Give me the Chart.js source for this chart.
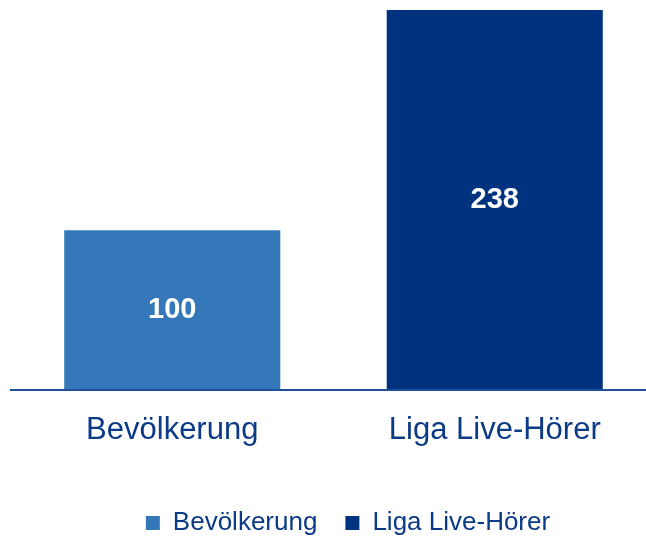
<!DOCTYPE html>
<html>
<head>
<meta charset="utf-8">
<script src="https://cdn.jsdelivr.net/npm/chart.js@4/dist/chart.umd.min.js"></script>
<style>
  html, body { margin: 0; padding: 0; background: #fff; }
  #wrap { width: 646px; height: 537px; overflow: hidden; }
</style>
</head>
<body>
<div id="wrap"><canvas id="chart" width="656" height="537"></canvas></div>
<script>
const categories = ['Bevölkerung', 'Liga Live-Hörer'];
const bevoelkerung = [100, null];
const ligaHoerer = [null, 238];

const textColor = '#0B3A86';

// white value labels in the middle of each bar
const barValues = {
    id: 'barValues',
    afterDatasetsDraw(chart) {
        const ctx = chart.ctx;
        ctx.save();
        ctx.fillStyle = '#FFFFFF';
        ctx.font = 'bold 29px "Liberation Sans", Arial, sans-serif';
        ctx.textAlign = 'center';
        ctx.textBaseline = 'middle';
        chart.data.datasets.forEach(function(ds, i) {
            chart.getDatasetMeta(i).data.forEach(function(bar, j) {
                if (ds.data[j] == null) return;
                const p = bar.getProps(['x', 'y', 'base'], true);
                ctx.fillText(ds.data[j], p.x, (p.y + p.base) / 2);
            });
        });
        ctx.restore();
    }
};

// legend sits a bit right of centre and lower in the original
const legendShift = {
    id: 'legendShift',
    afterLayout(chart) {
        const lg = chart.legend;
        const d = 348 - (lg.left + lg.right) / 2;
        lg.left += d;
        lg.right += d;
        lg.top += 11;
        lg.bottom += 11;
    }
};

const myChart = new Chart(document.getElementById('chart'), {
    type: 'bar',
    plugins: [barValues, legendShift],
    data: {
        labels: categories,
        datasets: [
            {
                label: 'Bevölkerung',
                data: bevoelkerung,
                backgroundColor: '#3478B9'
            },
            {
                label: 'Liga Live-Hörer',
                data: ligaHoerer,
                backgroundColor: '#00337F'
            }
        ]
    },
    options: {
        responsive: false,
        animation: false,
        layout: {
            padding: { left: 11, top: 10, right: 0, bottom: 2 }
        },
        datasets: {
            bar: {
                barPercentage: 0.67,
                categoryPercentage: 1,
                skipNull: true
            }
        },
        plugins: {
            legend: {
                position: 'bottom',
                labels: {
                    boxWidth: 14,
                    boxHeight: 14,
                    padding: 28,
                    color: textColor,
                    font: { family: 'Liberation Sans', size: 26 }
                }
            },
            tooltip: { enabled: false }
        },
        scales: {
            x: {
                grid: { display: false, drawTicks: false },
                border: { color: '#1F4E9A', width: 2, z: 1 },
                ticks: {
                    color: textColor,
                    padding: 22,
                    font: { family: 'Liberation Sans', size: 31 }
                }
            },
            y: {
                display: false,
                min: 0,
                max: 238
            }
        }
    }
});
</script>
</body>
</html>
